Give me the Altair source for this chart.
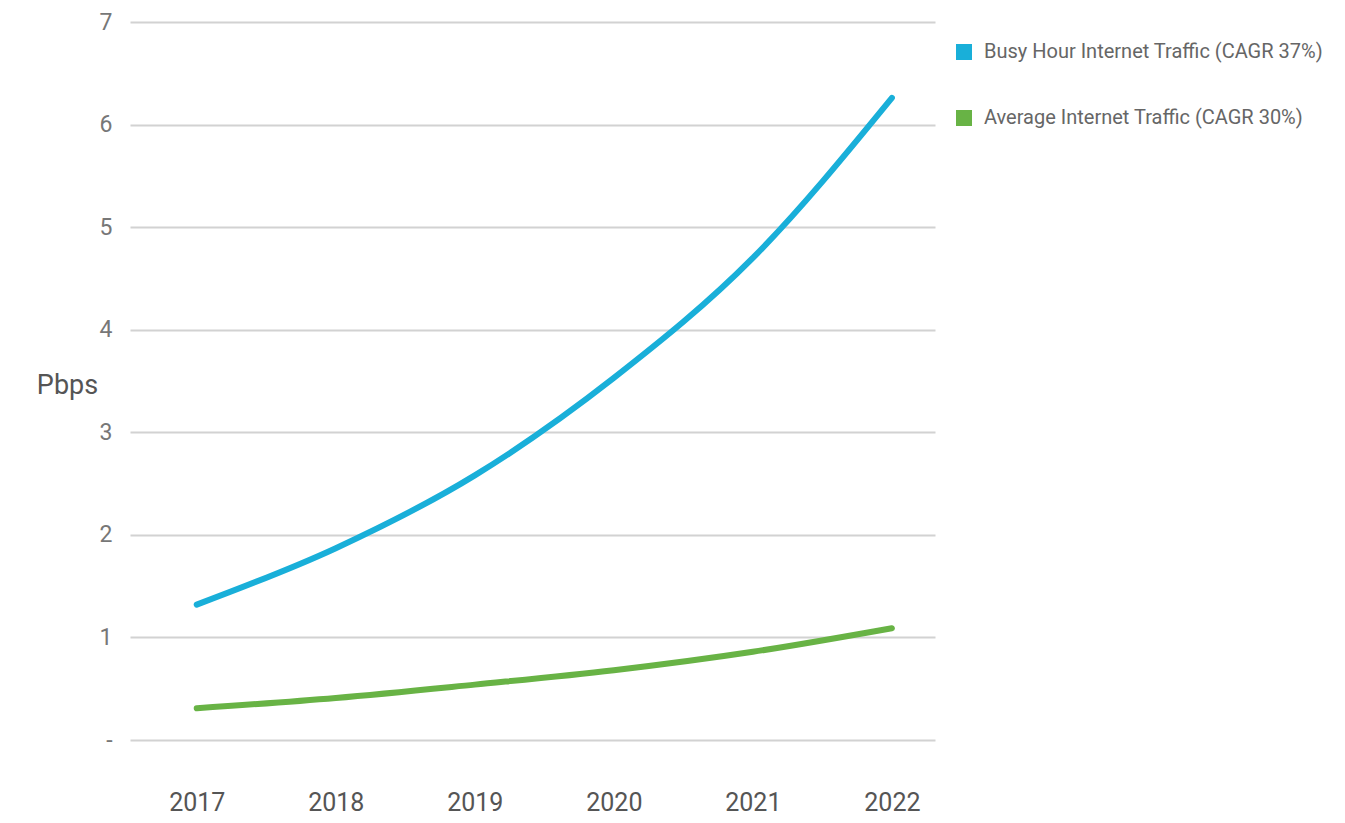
import altair as alt
import pandas as pd

years = [2017, 2018, 2019, 2020, 2021, 2022]
busy_hour = [1.32, 1.87, 2.58, 3.53, 4.70, 6.26]
average = [0.31, 0.41, 0.54, 0.68, 0.86, 1.09]
series_names = ["Busy Hour Internet Traffic (CAGR 37%)", "Average Internet Traffic (CAGR 30%)"]
colors = ["#19afd9", "#68b345"]

rows = []
for y, v in zip(years, busy_hour):
    rows.append({"year": y, "value": v, "series": series_names[0]})
for y, v in zip(years, average):
    rows.append({"year": y, "value": v, "series": series_names[1]})
df = pd.DataFrame(rows)

FONT = "Roboto"

chart = alt.Chart(df).mark_line(strokeWidth=6, interpolate="monotone", strokeCap="round").encode(
    x=alt.X("year:Q", scale=alt.Scale(domain=[2016.52, 2022.31], nice=False, zero=False),
            axis=alt.Axis(values=years, format="d", grid=False, ticks=False, domain=False,
                          labelFontSize=25, labelColor="#555", labelPadding=50,
                          labelFont=FONT, title=None)),
    y=alt.Y("value:Q", scale=alt.Scale(domain=[0, 7], nice=False),
            axis=alt.Axis(values=list(range(8)), ticks=False, domain=False,
                          gridColor="#d2d2d2", gridWidth=2,
                          labelFontSize=23, labelColor="#777", labelPadding=18,
                          labelFont=FONT,
                          labelExpr="datum.value == 0 ? '-' : datum.label",
                          title="Pbps", titleAngle=0, titleX=-63, titleY=363,
                          titleAlign="center", titleBaseline="middle",
                          titleFontSize=27, titleFontWeight="normal",
                          titleColor="#555", titleFont=FONT)),
    color=alt.Color("series:N", scale=alt.Scale(domain=series_names, range=colors),
                    legend=alt.Legend(orient="none", legendX=824, legendY=20, title=None,
                                      symbolType="square", symbolSize=4,
                                      symbolStrokeWidth=14, symbolOpacity=1,
                                      labelFontSize=20, labelColor="#666", labelFont=FONT,
                                      labelLimit=0, rowPadding=8, labelOffset=10)),
).properties(
    width=805, height=718,
    autosize=alt.AutoSizeParams(type="none"),
    padding={"left": 122, "top": 14, "right": 402, "bottom": 75},
).configure_view(stroke=None)

chart.save("out.html", embed_options={"renderer": "svg", "actions": False})
